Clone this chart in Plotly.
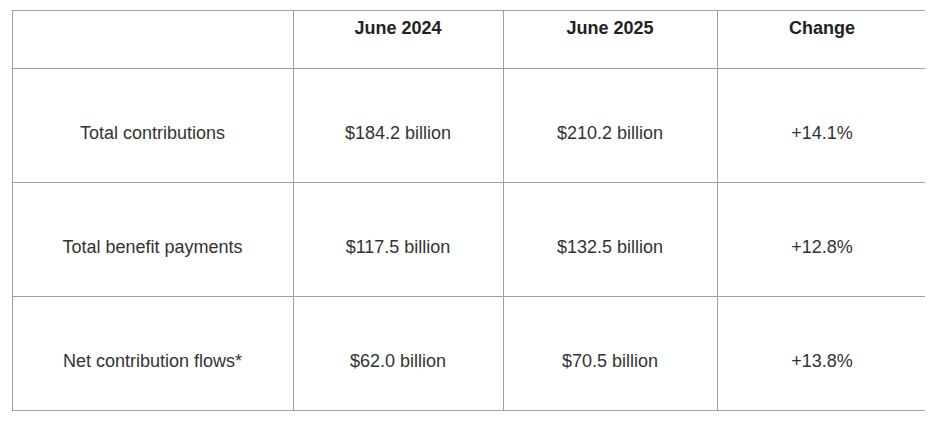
import plotly.graph_objects as go

headers = ["", "<b>June 2024</b>", "<b>June 2025</b>", "<b>Change</b>"]
metrics = ["Total contributions", "Total benefit payments", "Net contribution flows*"]
june_2024 = ["$184.2 billion", "$117.5 billion", "$62.0 billion"]
june_2025 = ["$210.2 billion", "$132.5 billion", "$70.5 billion"]
change = ["+14.1%", "+12.8%", "+13.8%"]

def pad(col):
    # push text down toward the vertical middle of the tall cells
    return ["&nbsp;<br>&nbsp;<br>" + v for v in col]

fig = go.Figure(go.Table(
    columnwidth=[281, 210, 214, 210],
    header=dict(values=headers, height=58, align="center",
                line=dict(color="#a0a0a0", width=1), fill_color="white",
                font=dict(family="Liberation Sans, Arial", size=18, color="#222")),
    cells=dict(values=[pad(metrics), pad(june_2024), pad(june_2025), pad(change)],
               height=114, align="center",
               line=dict(color="#a0a0a0", width=1), fill_color="white",
               font=dict(family="Liberation Sans, Arial", size=18, color="#333")),
    domain=dict(x=[4/933, 919/933], y=[0, 1 - 2/421]),
))
fig.update_layout(width=933, height=421, margin=dict(l=0, r=0, t=0, b=0),
                  paper_bgcolor="white")
fig.write_html("out.html")
